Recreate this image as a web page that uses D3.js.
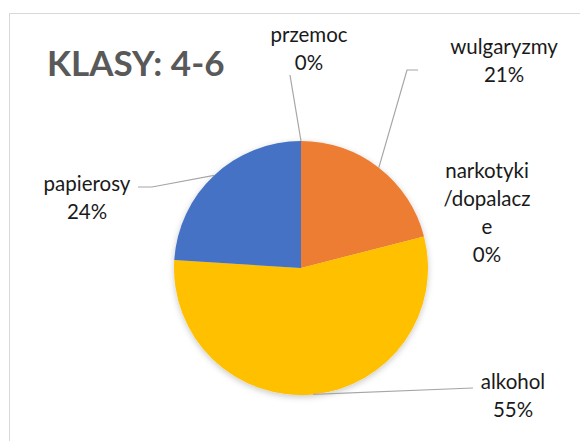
<!DOCTYPE html>
<html>
<head>
<meta charset="utf-8">
<script src="https://cdn.jsdelivr.net/npm/d3@7"></script>
<style>
  html, body { margin: 0; padding: 0; background: #fff; }
  svg { display: block; }
</style>
</head>
<body>
<svg id="chart" width="580" height="441"></svg>
<script>
// Categories and their shares (percent)
const categories = ["przemoc", "wulgaryzmy", "narkotyki\n/dopalacz\ne", "alkohol", "papierosy"];
const values = [0, 21, 0, 55, 24];
const colors = ["#5B9BD5", "#ED7D31", "#A5A5A5", "#FFC000", "#4472C4"];
const title = "KLASY: 4-6";

const W = 580, H = 441;
const cx = 301, cy = 268, R = 127;
const FONT = "Lato, 'Open Sans', sans-serif";
const lineH = 28;

// Label placement: centre x, first baseline y, optional leader elbow / end
const labelLayout = [
  { x: 309, y: 42, end: [290, 75] },
  { x: 504, y: 54, elbow: [407, 70], end: [418, 70] },
  { x: 487, y: 178 },
  { x: 513, y: 389, end: [473, 388] },
  { x: 87, y: 191, elbow: [152, 187], end: [138, 187] }
];

const svg = d3.select("#chart");

// chart frame
svg.append("rect")
  .attr("x", 9.5).attr("y", 13.5)
  .attr("width", 580).attr("height", 440)
  .attr("fill", "#fff")
  .attr("stroke", "#d9d9d9").attr("stroke-width", 1);

// soft shadow beneath the pie
const defs = svg.append("defs");
const f = defs.append("filter").attr("id", "pieShadow")
  .attr("x", "-20%").attr("y", "-20%").attr("width", "140%").attr("height", "140%");
f.append("feDropShadow").attr("dx", 0).attr("dy", 2)
  .attr("stdDeviation", 3).attr("flood-color", "#000").attr("flood-opacity", 0.22);

svg.append("text")
  .attr("x", 47).attr("y", 76)
  .attr("font-family", FONT).attr("font-weight", 700)
  .attr("font-size", 35).attr("fill", "#595959")
  .text(title);

const data = categories.map((c, i) => ({ name: c, value: values[i], color: colors[i], layout: labelLayout[i] }));

const pie = d3.pie().value(d => d.value).sort(null);
const arcs = pie(data);
const arc = d3.arc().innerRadius(0).outerRadius(R);

const g = svg.append("g").attr("transform", `translate(${cx},${cy})`);
g.append("g").attr("filter", "url(#pieShadow)")
  .selectAll("path").data(arcs).join("path")
  .attr("d", arc)
  .attr("fill", d => d.data.color);

// leader lines
const edgePoint = a => {
  const m = (a.startAngle + a.endAngle) / 2;
  return [cx + R * Math.sin(m), cy - R * Math.cos(m)];
};
arcs.forEach(a => {
  const L = a.data.layout;
  if (!L.end) return;
  const pts = [edgePoint(a)];
  if (L.elbow) pts.push(L.elbow);
  pts.push(L.end);
  svg.append("path")
    .attr("d", d3.line()(pts))
    .attr("fill", "none")
    .attr("stroke", "#a6a6a6").attr("stroke-width", 1.2);
});

// data labels: name and percentage
const pct = d3.format(".0%");
arcs.forEach(a => {
  const L = a.data.layout;
  const lines = a.data.name.split("\n").concat([pct(a.data.value / 100)]);
  const t = svg.append("text")
    .attr("font-family", FONT).attr("font-size", 20.5)
    .attr("fill", "#1a1a1a").attr("text-anchor", "middle");
  lines.forEach((s, i) => {
    t.append("tspan").attr("x", L.x).attr("y", L.y + i * lineH).text(s);
  });
});
</script>
</body>
</html>
